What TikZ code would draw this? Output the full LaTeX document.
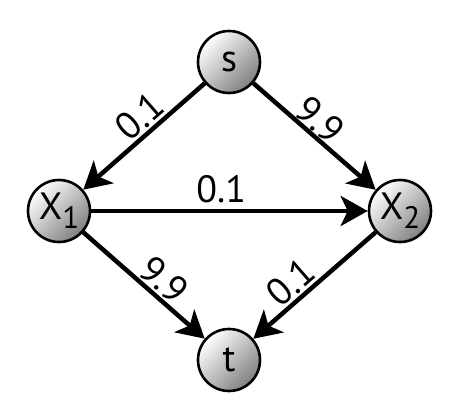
\documentclass[tikz,border=0pt]{standalone}
\usepackage{fontspec}
\setmainfont{PT Sans}
\usetikzlibrary{arrows.meta}
\newcommand{\lowsub}[1]{\raisebox{-9pt}{\fontsize{31}{31}\selectfont #1}}
\begin{document}
\begin{tikzpicture}[x=1pt,y=-1pt,
  vert/.style={circle, draw, line width=2.6pt, minimum size=62pt, inner sep=0pt,
    shading=axis, top color=white, bottom color=black!50, shading angle=45,
    font=\fontsize{38}{38}\selectfont},
  edge/.style={line width=4.5pt, -{Stealth[length=27pt, width=30pt, inset=7pt]}},
  wt/.style={font=\fontsize{38}{38}\selectfont, inner sep=2pt}]
\useasboundingbox (0,0) rectangle (456,416);
\node[vert] (s) at (229,62) {s};
\node[vert] (x1) at (59,211) {X\lowsub{1}};
\node[vert] (x2) at (400,211) {X\lowsub{2}};
\node[vert] (t) at (229,360) {t};
\draw[edge] (s) -- node[wt, sloped, above, pos=0.44] {0.1} (x1);
\draw[edge] (s) -- node[wt, sloped, above, pos=0.46, inner sep=0pt] {9.9} (x2);
\draw[edge] (x1) -- node[wt, above=4pt, pos=0.47] {0.1} (x2);
\draw[edge] (x1) -- node[wt, sloped, above, pos=0.57] {9.9} (t);
\draw[edge] (x2) -- node[wt, sloped, above, pos=0.6] {0.1} (t);
\end{tikzpicture}
\end{document}
